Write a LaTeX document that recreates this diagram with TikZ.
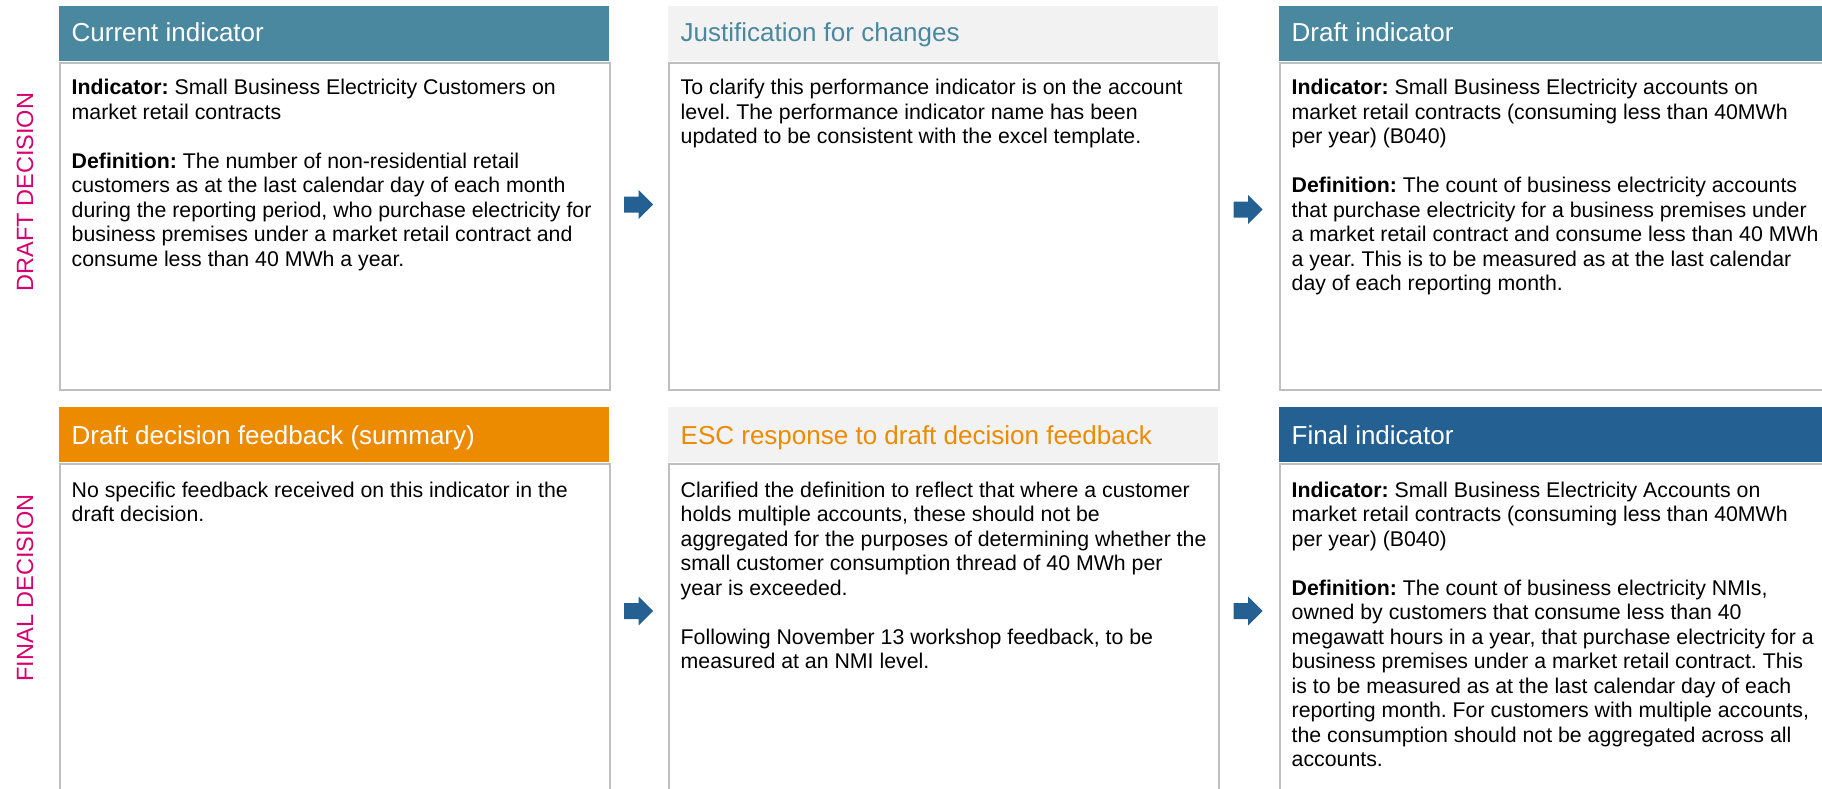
\documentclass[tikz,border=0pt]{standalone}
\usepackage{fontspec}
\setmainfont{Liberation Sans}
\usetikzlibrary{calc}
\definecolor{hdrteal}{RGB}{74,136,160}
\definecolor{hdrorange}{RGB}{236,139,0}
\definecolor{hdrblue}{RGB}{36,96,145}
\definecolor{hdrgrey}{RGB}{242,242,242}
\definecolor{boxgrey}{RGB}{191,191,191}
\definecolor{sidepink}{RGB}{214,0,110}
\definecolor{arrowblue}{RGB}{36,96,145}
\newcommand{\bodypar}[1]{\parbox[t]{560pt}{\raggedright\frenchspacing #1}}
\begin{document}
\begin{tikzpicture}[x=1pt,y=-1pt,
  hdr/.style={rectangle, inner sep=0pt, minimum width=550pt, minimum height=55pt, anchor=north west, draw=none},
  bodybox/.style={rectangle, inner sep=0pt, minimum width=550pt, anchor=north west, draw=boxgrey, line width=2pt, fill=white},
  hdrtext/.style={anchor=base west, inner sep=0pt, font=\fontsize{26}{30}\selectfont},
  bodytext/.style={anchor=base west, inner sep=0pt, text=black, font=\fontsize{21.3}{24.5}\selectfont},
  side/.style={rotate=90, text=sidepink, inner sep=0pt, font=\fontsize{23.5}{28}\selectfont},
  blockarrow/.style={fill=arrowblue, draw=none}
]
\useasboundingbox (0,0) rectangle (1822,789);
\clip (0,0) rectangle (1822,789);

% side labels
\node[side] (sdraft) at (25,192) {DRAFT DECISION};
\node[side] (sfinal) at (25,588) {FINAL DECISION};

% row 1 bodies
\node[bodybox, minimum height=327pt] (b11) at (59,62) {};
\node[bodybox, minimum height=327pt] (b12) at (668,62) {};
\node[bodybox, minimum height=327pt] (b13) at (1279,62) {};
% row 2 bodies
\node[bodybox, minimum height=360pt] (b21) at (59,463) {};
\node[bodybox, minimum height=360pt] (b22) at (668,463) {};
\node[bodybox, minimum height=360pt] (b23) at (1279,463) {};

% headers
\node[hdr, fill=hdrteal] (h11) at (59,6) {};
\node[hdr, fill=hdrgrey] (h12) at (668,6) {};
\node[hdr, fill=hdrteal] (h13) at (1279,6) {};
\node[hdr, fill=hdrorange] (h21) at (59,407) {};
\node[hdr, fill=hdrgrey] (h22) at (668,407) {};
\node[hdr, fill=hdrblue] (h23) at (1279,407) {};

% header texts
\node[hdrtext, text=white] (t11) at (71.5,42) {Current indicator};
\node[hdrtext, text=hdrteal] (t12) at (680.5,42) {Justification for changes};
\node[hdrtext, text=white] (t13) at (1291.5,42) {Draft indicator};
\node[hdrtext, text=white] (t21) at (71.5,444) {Draft decision feedback (summary)};
\node[hdrtext, text=hdrorange] (t22) at (680.5,444) {ESC response to draft decision feedback};
\node[hdrtext, text=white] (t23) at (1291.5,444) {Final indicator};

% body texts
\node[bodytext] (x11) at (71.5,95) {\bodypar{\textbf{Indicator:} Small Business Electricity Customers on\\
market retail contracts\\[24.5pt]
\textbf{Definition:} The number of non-residential retail\\
customers as at the last calendar day of each month\\
during the reporting period, who purchase electricity for\\
business premises under a market retail contract and\\
consume less than 40 MWh a year.}};

\node[bodytext] (x12) at (680.5,95) {\bodypar{To clarify this performance indicator is on the account\\
level. The performance indicator name has been\\
updated to be consistent with the excel template.}};

\node[bodytext] (x13) at (1291.5,95) {\bodypar{\textbf{Indicator:} Small Business Electricity accounts on\\
market retail contracts (consuming less than 40MWh\\
per year) (B040)\\[24.5pt]
\textbf{Definition:} The count of business electricity accounts\\
that purchase electricity for a business premises under\\
a market retail contract and consume less than 40 MWh\\
a year. This is to be measured as at the last calendar\\
day of each reporting month.}};

\node[bodytext] (x21) at (71.5,497) {\bodypar{No specific feedback received on this indicator in the\\
draft decision.}};

\node[bodytext] (x22) at (680.5,497) {\bodypar{Clarified the definition to reflect that where a customer\\
holds multiple accounts, these should not be\\
aggregated for the purposes of determining whether the\\
small customer consumption thread of 40 MWh per\\
year is exceeded.\\[24.5pt]
Following November 13 workshop feedback, to be\\
measured at an NMI level.}};

\node[bodytext] (x23) at (1291.5,497) {\bodypar{\textbf{Indicator:} Small Business Electricity Accounts on\\
market retail contracts (consuming less than 40MWh\\
per year) (B040)\\[24.5pt]
\textbf{Definition:} The count of business electricity NMIs,\\
owned by customers that consume less than 40\\
megawatt hours in a year, that purchase electricity for a\\
business premises under a market retail contract. This\\
is to be measured as at the last calendar day of each\\
reporting month. For customers with multiple accounts,\\
the consumption should not be aggregated across all\\
accounts.}};

% block arrows
\coordinate (a1) at (638.5,204.5);
\coordinate (a2) at (1248,209.5);
\coordinate (a3) at (638.5,611);
\coordinate (a4) at (1248,611);
\foreach \a in {a1,a2,a3,a4}{
  \fill[blockarrow, shift={(\a)}] (-14.5,-8) -- (0,-8) -- (0,-14.5) -- (14.5,0) -- (0,14.5) -- (0,8) -- (-14.5,8) -- cycle;
}
\end{tikzpicture}
\end{document}
